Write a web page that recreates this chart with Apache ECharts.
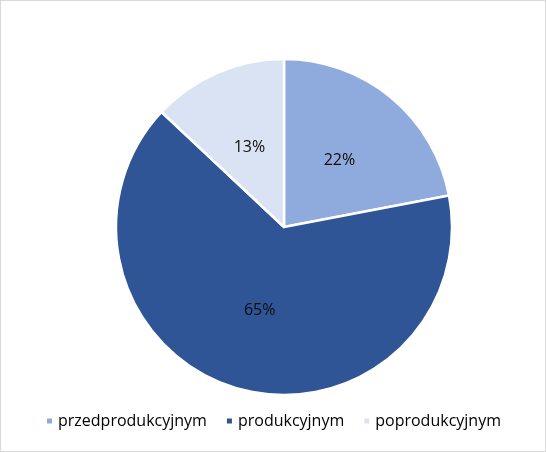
<!DOCTYPE html>
<html>
<head>
<meta charset="utf-8">
<script src="https://cdn.jsdelivr.net/npm/echarts@6/dist/echarts.min.js"></script>
<style>
html, body { margin: 0; padding: 0; background: #fff; }
#chart { width: 544px; height: 450px; border: 1px solid #d9d9d9; }
</style>
</head>
<body>
<div id="chart"></div>
<script>
// dane wykresu
var categories = ['przedprodukcyjnym', 'produkcyjnym', 'poprodukcyjnym'];
var values = [22, 65, 13];
var colors = ['#8faadc', '#2f5597', '#dae3f3'];

var myChart = echarts.init(document.getElementById('chart'));

var data = categories.map(function (name, i) {
	return { name: name, value: values[i], itemStyle: { color: colors[i] } };
});

var option = {
	animation: false,
	textStyle: { fontFamily: 'Open Sans' },
	legend: {
		bottom: 17,
		left: 'center',
		itemWidth: 7,
		itemHeight: 7,
		itemGap: 18,
		icon: 'rect',
		data: categories,
		textStyle: { fontSize: 16, color: '#000', fontFamily: 'Open Sans' }
	},
	series: [{
		type: 'pie',
		center: [283, 226],
		radius: 168,
		startAngle: 90,
		clockwise: true,
		data: data,
		itemStyle: { borderColor: '#fff', borderWidth: 2.5 },
		label: {
			position: 'inside',
			formatter: '{d}%',
			fontSize: 16,
			color: '#0d0d0d',
			fontFamily: 'Open Sans'
		},
		labelLine: { show: false },
		emphasis: { disabled: true }
	}]
};

myChart.setOption(option);
</script>
</body>
</html>
